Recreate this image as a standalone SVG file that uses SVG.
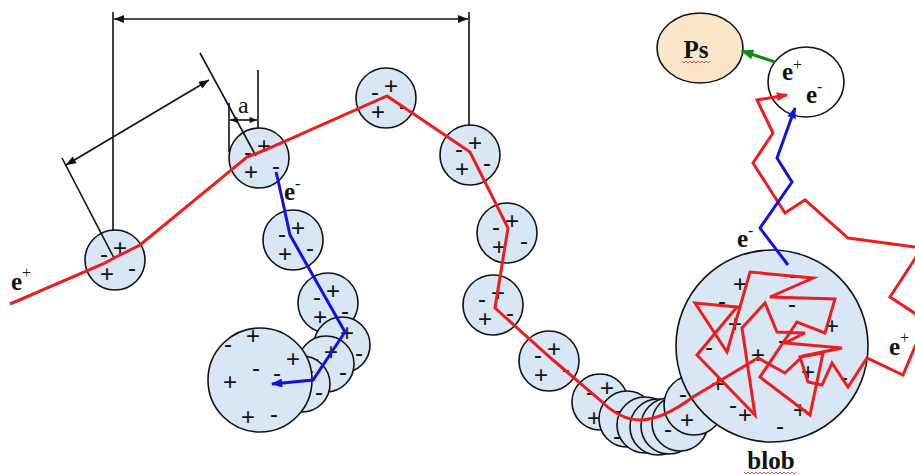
<svg xmlns="http://www.w3.org/2000/svg" xmlns:xlink="http://www.w3.org/1999/xlink" width="915" height="475" viewBox="0 0 915 475">
  <style>
    .cell { fill: #d8e6f6; stroke: #111; stroke-width: 1.6; }
    .sg { font-family: "Liberation Sans", Arial, sans-serif; font-size: 24px; fill: #111; text-anchor: middle; dominant-baseline: central; }
    .lbl { font-family: "Liberation Serif", "Times New Roman", serif; font-size: 25px; font-weight: bold; fill: #111; }
    .sup { font-size: 16px; font-weight: normal; }
    .dim { stroke: #111; stroke-width: 1.6; fill: none; }
    .pos { stroke: #ee1c1c; stroke-width: 3; fill: none; stroke-linejoin: miter; }
    .ele { stroke: #1212e0; stroke-width: 3; fill: none; }
    .squig { stroke: #e03030; stroke-width: 0.8; fill: none; }
  </style>
  <defs>
    <marker id="ak" viewBox="0 0 10 8" refX="10" refY="4" markerWidth="11" markerHeight="8" orient="auto-start-reverse" markerUnits="userSpaceOnUse">
      <path d="M0,0 L10,4 L0,8 z" fill="#111"/>
    </marker>
    <marker id="ak2" viewBox="0 0 10 8" refX="10" refY="4" markerWidth="8" markerHeight="6" orient="auto-start-reverse" markerUnits="userSpaceOnUse">
      <path d="M0,0 L10,4 L0,8 z" fill="#111"/>
    </marker>
    <marker id="ar" viewBox="0 0 10 8" refX="9" refY="4" markerWidth="12" markerHeight="9" orient="auto" markerUnits="userSpaceOnUse">
      <path d="M0,0 L10,4 L0,8 z" fill="#ee1c1c"/>
    </marker>
    <marker id="ab" viewBox="0 0 10 8" refX="9" refY="4" markerWidth="12" markerHeight="9" orient="auto" markerUnits="userSpaceOnUse">
      <path d="M0,0 L10,4 L0,8 z" fill="#1212e0"/>
    </marker>
    <marker id="ag" viewBox="0 0 10 8" refX="9" refY="4" markerWidth="13" markerHeight="10" orient="auto" markerUnits="userSpaceOnUse">
      <path d="M0,0 L10,4 L0,8 z" fill="#118a11"/>
    </marker>
    <!-- charge signs of a small cluster, centred on (0,0) -->
    <g id="qs">
      <text class="sg" x="-11" y="-7">-</text>
      <text class="sg" x="5" y="-13">+</text>
      <text class="sg" x="-8" y="13">+</text>
      <text class="sg" x="17" y="7">-</text>
    </g>
  </defs>

  <rect width="915" height="475" fill="#fff"/>

  <!-- small ionisation clusters along the track -->
  <g id="c1"><circle class="cell" cx="115" cy="260" r="30"/><use href="#qs" x="115" y="260"/></g>
  <g id="c2"><circle class="cell" cx="259" cy="158" r="30"/><use href="#qs" x="259" y="158"/></g>
  <g id="c3"><circle class="cell" cx="386" cy="98" r="30"/><use href="#qs" x="386" y="98"/></g>
  <g id="c4"><circle class="cell" cx="470" cy="155" r="30"/><use href="#qs" x="470" y="155"/></g>
  <g id="c5"><circle class="cell" cx="507" cy="233" r="30"/><use href="#qs" x="507" y="233"/></g>
  <g id="c6"><circle class="cell" cx="493" cy="305" r="30"/><use href="#qs" x="493" y="305"/></g>
  <g id="c7"><circle class="cell" cx="549" cy="361" r="30"/><use href="#qs" x="549" y="361"/></g>

  <!-- electron branch clusters -->
  <g id="b1"><circle class="cell" cx="293" cy="240" r="30"/><use href="#qs" x="293" y="240"/></g>
  <g id="b2"><circle class="cell" cx="328" cy="303" r="30"/><use href="#qs" x="328" y="303"/></g>
  <g id="b3"><circle class="cell" cx="342" cy="345" r="28"/><use href="#qs" x="342" y="345"/></g>
  <g id="b4"><circle class="cell" cx="326" cy="364" r="28"/><use href="#qs" x="326" y="364"/></g>
  <g id="b5"><circle class="cell" cx="302" cy="384" r="28"/><use href="#qs" x="302" y="384"/></g>
  <g id="b6">
    <circle class="cell" cx="260" cy="380" r="52"/>
    <text class="sg" x="228" y="343">-</text>
    <text class="sg" x="253" y="335">+</text>
    <text class="sg" x="293" y="358">+</text>
    <text class="sg" x="256" y="367">-</text>
    <text class="sg" x="277" y="372">-</text>
    <text class="sg" x="230" y="381">+</text>
    <text class="sg" x="248" y="416">+</text>
    <text class="sg" x="274" y="413">-</text>
  </g>

  <!-- overlapping clusters near the end of the track -->
  <g id="k1">
    <circle class="cell" cx="600" cy="402" r="28"/>
    <text class="sg" x="590" y="391">-</text>
    <text class="sg" x="607" y="387">+</text>
    <text class="sg" x="594" y="417">+</text>
  </g>
  <g id="k2">
    <circle class="cell" cx="627" cy="419" r="28"/>
    <text class="sg" x="618" y="409">-</text>
    <text class="sg" x="617" y="435">-</text>
  </g>
  <g id="k3"><circle class="cell" cx="645" cy="425" r="28"/></g>
  <g id="k4"><circle class="cell" cx="658" cy="427" r="28"/></g>
  <g id="k5"><circle class="cell" cx="669" cy="426" r="28"/></g>
  <g id="k6">
    <circle class="cell" cx="680" cy="423" r="28"/>
    <text class="sg" x="668" y="428">-</text>
  </g>
  <g id="k7">
    <circle class="cell" cx="694" cy="405" r="30"/>
    <text class="sg" x="683" y="393">-</text>
    <text class="sg" x="687" y="419">+</text>
  </g>

  <!-- blob -->
  <g id="blob">
    <circle class="cell" cx="772" cy="346" r="96"/>
    <text class="sg" x="740" y="283">+</text>
    <text class="sg" x="793" y="274">-</text>
    <text class="sg" x="722" y="300">-</text>
    <text class="sg" x="792" y="303">-</text>
    <text class="sg" x="735" y="323">+</text>
    <text class="sg" x="832" y="325">+</text>
    <text class="sg" x="709" y="346">-</text>
    <text class="sg" x="782" y="339">-</text>
    <text class="sg" x="758" y="354">+</text>
    <text class="sg" x="808" y="371">+</text>
    <text class="sg" x="844" y="376">-</text>
    <text class="sg" x="718" y="383">+</text>
    <text class="sg" x="733" y="404">-</text>
    <text class="sg" x="745" y="414">+</text>
    <text class="sg" x="800" y="409">+</text>
    <text class="sg" x="780" y="425">-</text>
    <text class="lbl" x="771" y="469" text-anchor="middle" font-size="26">blob</text>
    <path class="squig" d="M744,472 l2,2 l2,-2 l2,2 l2,-2 l2,2 l2,-2 l2,2 l2,-2 l2,2 l2,-2 l2,2 l2,-2 l2,2 l2,-2 l2,2 l2,-2 l2,2 l2,-2 l2,2 l2,-2 l2,2 l2,-2 l2,2 l2,-2 l2,2 l2,-2"/>
  </g>

  <!-- positronium -->
  <g id="ps">
    <ellipse cx="700" cy="48" rx="43" ry="35" fill="#fbe6c9" stroke="#111" stroke-width="1.6"/>
    <text class="lbl" x="696" y="58" text-anchor="middle" font-size="26">Ps</text>
    <path class="squig" d="M682,61 l2,2 l2,-2 l2,2 l2,-2 l2,2 l2,-2 l2,2 l2,-2 l2,2 l2,-2 l2,2 l2,-2 l2,2 l2,-2"/>
  </g>

  <!-- e+ e- pair -->
  <g id="pair">
    <ellipse cx="806" cy="82" rx="38" ry="35" fill="#fff" stroke="#111" stroke-width="1.6"/>
    <text class="lbl" x="782" y="80">e<tspan class="sup" dy="-10">+</tspan></text>
    <text class="lbl" x="806" y="103">e<tspan class="sup" dy="-11">-</tspan></text>
  </g>

  <!-- labels -->
  <g id="labels">
    <text class="lbl" x="11" y="290">e<tspan class="sup" dy="-12">+</tspan></text>
    <text class="lbl" x="284" y="200">e<tspan class="sup" dy="-11">-</tspan></text>
    <text class="lbl" x="737" y="247">e<tspan class="sup" dy="-11">-</tspan></text>
    <text class="lbl" x="889" y="355">e<tspan class="sup" dy="-12">+</tspan></text>
    <text x="238" y="113" font-family="Liberation Serif, Times New Roman, serif" font-size="24" fill="#111">a</text>
  </g>

  <g id="connectors">
    <!-- dimension lines -->
    <line class="dim" x1="113" y1="12" x2="113" y2="230"/>
    <line class="dim" x1="469" y1="12" x2="469" y2="125"/>
    <line class="dim" x1="114" y1="19" x2="468" y2="19" marker-start="url(#ak)" marker-end="url(#ak)"/>
    <line class="dim" x1="62" y1="158" x2="114" y2="258"/>
    <line class="dim" x1="200" y1="53" x2="256" y2="156"/>
    <line class="dim" x1="66" y1="165" x2="209" y2="80" marker-start="url(#ak)" marker-end="url(#ak)"/>
    <line class="dim" x1="229" y1="103" x2="229" y2="152"/>
    <line class="dim" x1="258" y1="70" x2="258" y2="128"/>
    <line class="dim" x1="230" y1="120" x2="257" y2="120" marker-start="url(#ak2)" marker-end="url(#ak2)"/>

    <!-- positron track -->
    <path class="pos" marker-end="url(#ar)" d="M10,304 L103,264 L118,256 L140,245 L247,157 L265,150 L387,96 L470,152 L508,228 L495,308 L553,360 L600,400 Q620,420 640,420 Q662,420 693,397 L758,358
      L785,373 L803,356 L842,348 L785,343 L805,333 L777,332 L765,303 L742,328 L755,415 L697,355 L737,307 L695,303 L727,352 L750,272 L813,278 L770,297 L835,299 L825,333 L797,322 L760,377 L810,415 L823,353 L800,357 L808,382 L822,385 L832,363 L848,387 L867,358
      L903,375 L922,330 L922,318 L890,297 L922,248 L848,238 L805,200 L785,213 L753,163 L773,133 L757,100 L787,95"/>

    <!-- electron tracks -->
    <path class="ele" marker-end="url(#ab)" d="M276,172 L278,180 L290,235 L345,332 L313,380 L272,384"/>
    <path class="ele" marker-end="url(#ab)" d="M788,265 L760,228 L792,182 L777,158 L795,108"/>

    <!-- pair to positronium -->
    <line x1="775" y1="62" x2="742" y2="51" stroke="#118a11" stroke-width="3" marker-end="url(#ag)"/>
  </g>
</svg>
